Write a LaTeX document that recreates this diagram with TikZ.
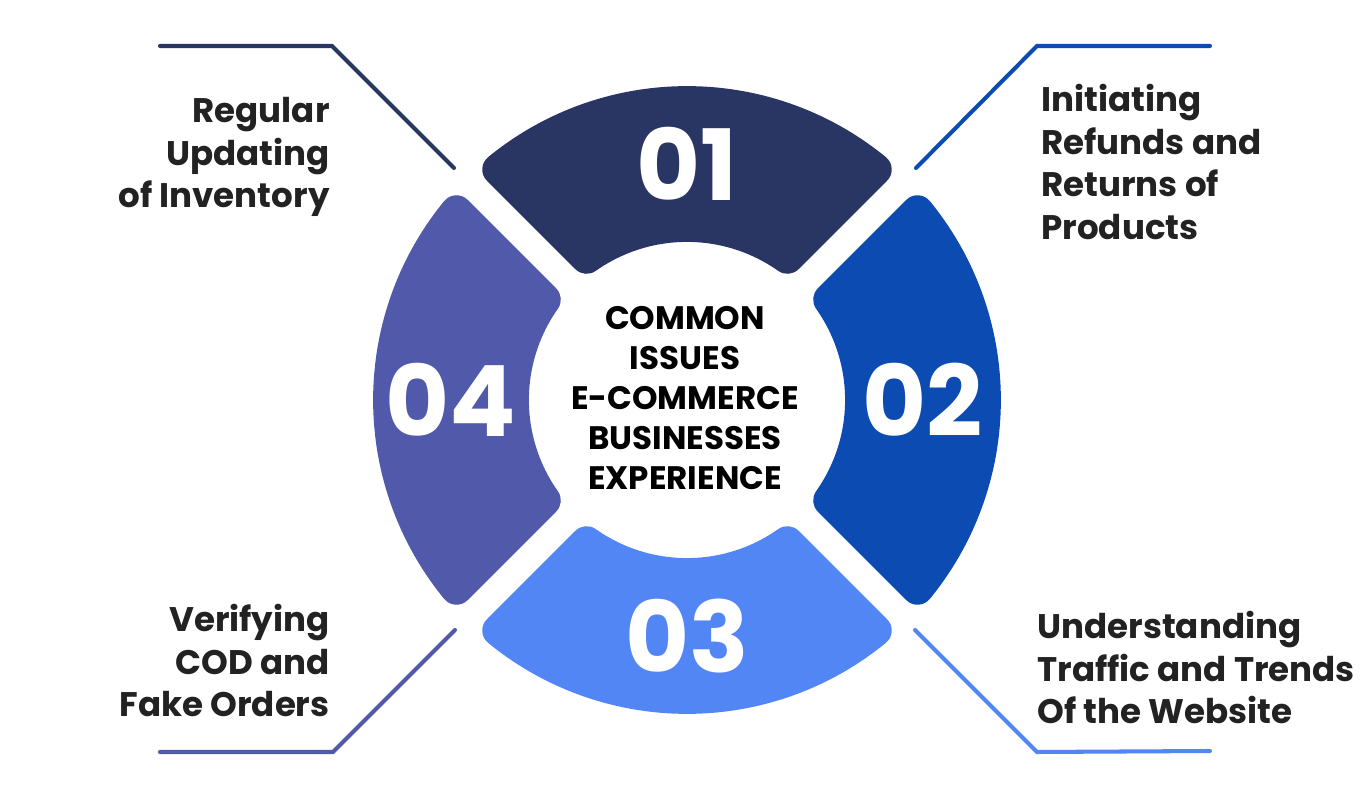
\documentclass[tikz,border=0pt]{standalone}
\usepackage{fontspec}
\setmainfont{Poppins}
\usetikzlibrary{positioning}
\definecolor{navyseg}{RGB}{41,54,99}
\definecolor{royalseg}{RGB}{12,76,178}
\definecolor{skyseg}{RGB}{83,134,245}
\definecolor{lilacseg}{RGB}{81,90,170}
\definecolor{labelgray}{RGB}{34,34,34}

\begin{document}
\begin{tikzpicture}[x=0.02cm, y=0.02cm,
  seg/.style={line width=18.1pt, line join=round},
  numtxt/.style={font=\bfseries\fontsize{56}{60}\selectfont, text=white, inner sep=0pt},
  hubtxt/.style={font=\bfseries\fontsize{18.5}{22.7}\selectfont, align=center, inner sep=0pt},
  sidetxt/.style={font=\bfseries\fontsize{19.4}{24.2}\selectfont, text=labelgray, inner sep=0pt},
  leader/.style={line width=2.3pt, line cap=round}
]
\useasboundingbox (-687,-400) rectangle (683,400);

% ring segments: shrunk sectors, stroked wide to get the rounded corners
\pgfmathsetmacro\aa{158+16}
\pgfmathsetmacro\bb{314-16}
\pgfmathsetmacro\ho{45-asin(29.5/\bb)}
\pgfmathsetmacro\hi{45-asin(29.5/\aa)}
\foreach \c/\col/\num in {90/navyseg/01, 0/royalseg/02, 270/skyseg/03, 180/lilacseg/04} {
  \filldraw[seg, fill=\col, draw=\col]
    ({\c-\ho}:\bb) arc[start angle=\c-\ho, end angle=\c+\ho, radius=\bb]
    -- ({\c+\hi}:\aa) arc[start angle=\c+\hi, end angle=\c-\hi, radius=\aa] -- cycle;
  \node[numtxt] (n\num) at (\c:236) {\num};
}

\node[hubtxt] (hub) at (-2,2) {COMMON\\ISSUES\\E-COMMERCE\\BUSINESSES\\EXPERIENCE};

% side labels
\node[sidetxt, anchor=north east, align=right] (inv) at (-357,303) {Regular\\Updating\\of Inventory};
\node[sidetxt, anchor=north west, align=left] (ref) at (354,316) {Initiating\\Refunds and\\Returns of\\Products};
\node[sidetxt, anchor=north east, align=right] (cod) at (-357,-204) {Verifying\\COD and\\Fake Orders};
\node[sidetxt, anchor=north west, align=left] (web) at (350,-211) {Understanding\\Traffic and Trends\\Of the Website};

% leader lines
\coordinate (inv1) at (-527,354); \coordinate (inv2) at (-355,354); \coordinate (inv3) at (-233,232);
\coordinate (ref1) at (523,354);  \coordinate (ref2) at (350,354);  \coordinate (ref3) at (229,232);
\coordinate (cod1) at (-527,-352); \coordinate (cod2) at (-354,-352); \coordinate (cod3) at (-232,-230);
\coordinate (web1) at (523,-351); \coordinate (web2) at (350,-352); \coordinate (web3) at (228,-230);
\draw[leader, navyseg] (inv1) -- (inv2) -- (inv3);
\draw[leader, royalseg] (ref1) -- (ref2) -- (ref3);
\draw[leader, lilacseg] (cod1) -- (cod2) -- (cod3);
\draw[leader, skyseg] (web1) -- (web2) -- (web3);
\end{tikzpicture}
\end{document}
